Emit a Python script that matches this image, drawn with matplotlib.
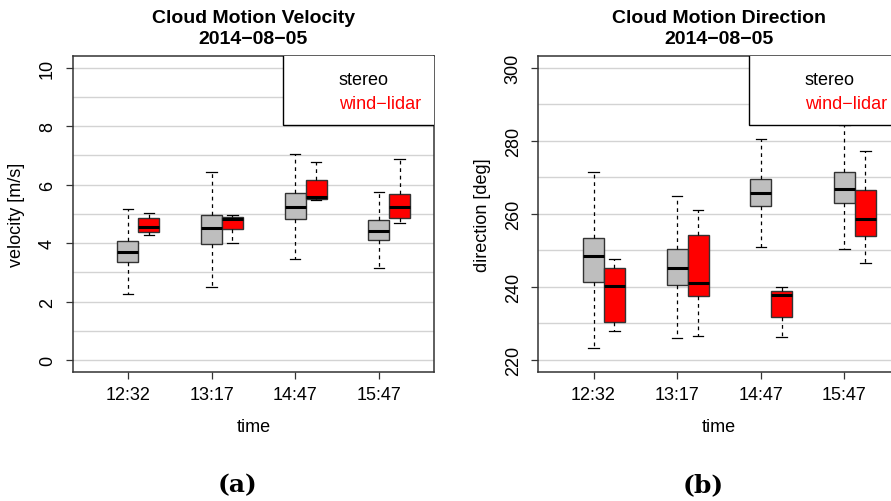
import matplotlib.pyplot as plt
from matplotlib.patches import Rectangle

plt.rcParams['font.family'] = ['Liberation Sans', 'DejaVu Sans']

times = ["12:32", "13:17", "14:47", "15:47"]

# Cloud motion velocity [m/s] : whisker low, q1, median, q3, whisker high
vel_stereo_lo = [2.26, 2.50, 3.47, 3.15]
vel_stereo_q1 = [3.34, 3.98, 4.82, 4.12]
vel_stereo_med = [3.68, 4.53, 5.23, 4.42]
vel_stereo_q3 = [4.07, 4.95, 5.72, 4.78]
vel_stereo_hi = [5.16, 6.42, 7.05, 5.75]

vel_lidar_lo = [4.27, 4.00, 5.47, 4.69]
vel_lidar_q1 = [4.38, 4.47, 5.51, 4.86]
vel_lidar_med = [4.54, 4.83, 5.58, 5.22]
vel_lidar_q3 = [4.85, 4.90, 6.15, 5.68]
vel_lidar_hi = [5.03, 4.97, 6.76, 6.88]

# Cloud motion direction [deg]
dir_stereo_lo = [223.4, 226.1, 251.0, 250.4]
dir_stereo_q1 = [241.4, 240.6, 262.1, 263.1]
dir_stereo_med = [248.5, 245.2, 265.6, 266.8]
dir_stereo_q3 = [253.3, 250.3, 269.4, 271.5]
dir_stereo_hi = [271.5, 264.9, 280.4, 284.2]

dir_lidar_lo = [227.8, 226.7, 226.2, 246.6]
dir_lidar_q1 = [230.3, 237.4, 231.9, 253.9]
dir_lidar_med = [240.2, 241.2, 237.7, 258.6]
dir_lidar_q3 = [245.2, 254.3, 238.9, 266.4]
dir_lidar_hi = [247.6, 261.1, 240.0, 277.1]


def make_stats(lo, q1, med, q3, hi):
    return [dict(whislo=a, q1=b, med=c, q3=d, whishi=e, fliers=[])
            for a, b, c, d, e in zip(lo, q1, med, q3, hi)]


def draw_panel(ax, stereo, lidar, ylim, yticks, grid, title, ylabel):
    pos = list(range(1, len(times) + 1))
    for y in grid:
        ax.axhline(y, color="#d3d3d3", lw=1.0, zorder=1)
    for stats, offset, color in [(stereo, 0.0, "#bebebe"), (lidar, 0.25, "#ff0000")]:
        ax.bxp(stats, positions=[p + offset for p in pos], widths=0.25,
               capwidths=0.125, patch_artist=True, showfliers=False,
               manage_ticks=False, zorder=3,
               boxprops=dict(facecolor=color, edgecolor="#333333", lw=1.0),
               medianprops=dict(color="black", lw=2.2),
               whiskerprops=dict(color="black", lw=0.9, linestyle=(0, (3, 3))),
               capprops=dict(color="black", lw=0.9))
    ax.set_xlim(0.34, 4.66)
    ax.set_ylim(*ylim)
    ax.set_xticks(pos)
    ax.set_xticklabels(times)
    ax.set_yticks(yticks)
    ax.set_yticklabels([str(v) for v in yticks], rotation=90, va="center")
    ax.tick_params(axis="both", length=5, width=0.9, color="#333333", labelsize=13)
    ax.tick_params(axis="y", pad=7)
    ax.tick_params(axis="x", pad=5)
    for s in ax.spines.values():
        s.set_color("#333333")
        s.set_linewidth(1.1)
    ax.set_title(title, fontsize=14, fontweight="bold", pad=9, linespacing=1.35)
    ax.set_xlabel("time", fontsize=13, labelpad=11)
    ax.set_ylabel(ylabel, fontsize=13, labelpad=10)

    # legend box (no symbols, coloured text)
    ax.add_patch(Rectangle((0.582, 0.782), 0.5, 0.3, transform=ax.transAxes,
                           facecolor="white", edgecolor="black", lw=1.0,
                           zorder=5, clip_on=True))
    ax.text(0.737, 0.924, "stereo", color="black", fontsize=13,
            transform=ax.transAxes, va="center", ha="left", zorder=6)
    ax.text(0.737, 0.851, "wind\u2212lidar", color="red", fontsize=13,
            transform=ax.transAxes, va="center", ha="left", zorder=6)


fig = plt.figure(figsize=(8.91, 5.02), dpi=100)
ax1 = fig.add_axes([0.0816, 0.2576, 0.4055, 0.6289])
ax2 = fig.add_axes([0.6042, 0.2576, 0.4055, 0.6289])

draw_panel(ax1,
           make_stats(vel_stereo_lo, vel_stereo_q1, vel_stereo_med, vel_stereo_q3, vel_stereo_hi),
           make_stats(vel_lidar_lo, vel_lidar_q1, vel_lidar_med, vel_lidar_q3, vel_lidar_hi),
           (-0.4, 10.4), [0, 2, 4, 6, 8, 10], range(0, 11),
           "Cloud Motion Velocity\n2014\u221208\u221205", "velocity [m/s]")
draw_panel(ax2,
           make_stats(dir_stereo_lo, dir_stereo_q1, dir_stereo_med, dir_stereo_q3, dir_stereo_hi),
           make_stats(dir_lidar_lo, dir_lidar_q1, dir_lidar_med, dir_lidar_q3, dir_lidar_hi),
           (216.8, 303.2), [220, 240, 260, 280, 300], range(220, 301, 10),
           "Cloud Motion Direction\n2014\u221208\u221205", "direction [deg]")

fig.text(0.266, 0.034, "(a)", fontsize=18, fontweight="bold",
         family=["DejaVu Serif"], ha="center", va="center")
fig.text(0.789, 0.034, "(b)", fontsize=18, fontweight="bold",
         family=["DejaVu Serif"], ha="center", va="center")

fig.savefig("out.png", dpi=100)
